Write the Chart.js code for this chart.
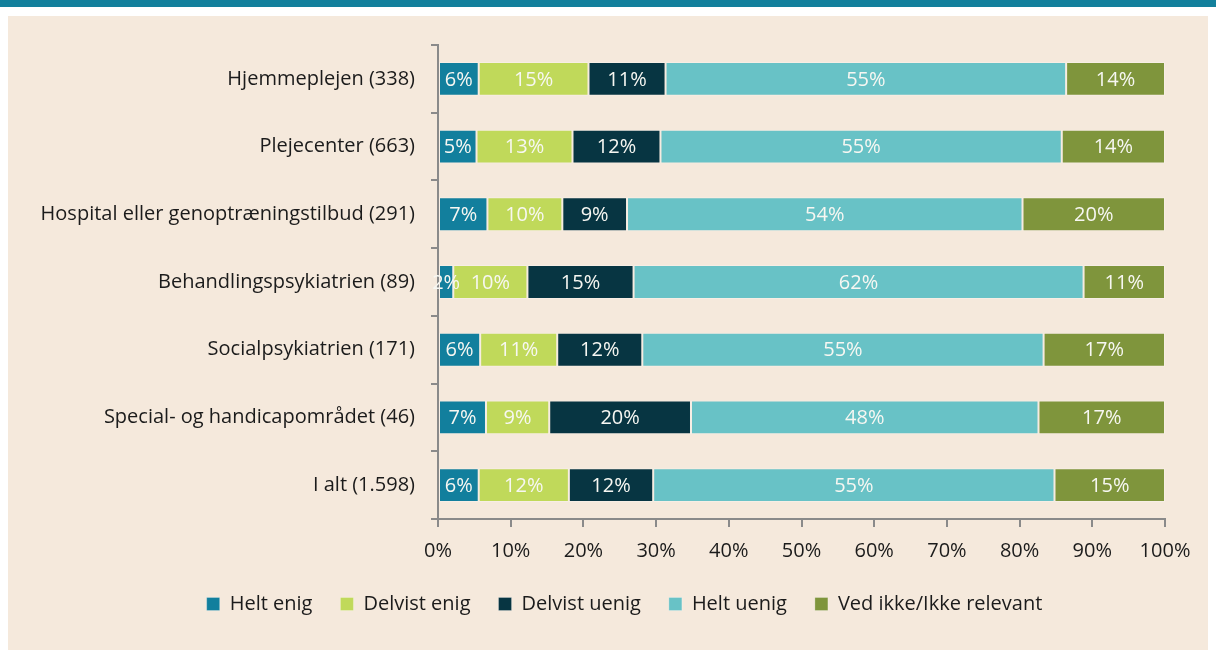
<!DOCTYPE html>
<html>
<head>
<meta charset="utf-8">
<script src="https://cdn.jsdelivr.net/npm/chart.js@4"></script>
<style>
  html, body { margin:0; padding:0; background:#fff; }
  body { width:1216px; height:650px; position:relative; overflow:hidden; }
  .topbar { position:absolute; left:0; top:0; width:1216px; height:7px; background:#13809c; }
  .panel { position:absolute; left:8px; top:16px; width:1200px; height:634px; background:#f5e9dc; }
  canvas { display:block; }
</style>
</head>
<body>
<div class="topbar"></div>
<div class="panel"><canvas id="chart" width="1200" height="634"></canvas></div>
<script>
(function(){
  const categories = [
    'Hjemmeplejen (338)',
    'Plejecenter (663)',
    'Hospital eller genoptræningstilbud (291)',
    'Behandlingspsykiatrien (89)',
    'Socialpsykiatrien (171)',
    'Special- og handicapområdet (46)',
    'I alt (1.598)'
  ];
  const seriesNames = ['Helt enig','Delvist enig','Delvist uenig','Helt uenig','Ved ikke/Ikke relevant'];
  const heltEnig     = [5.6, 5.3, 6.8, 2.1, 5.8, 6.6, 5.6];
  const delvistEnig  = [15.1, 13.2, 10.3, 10.2, 10.6, 8.7, 12.4];
  const delvistUenig = [10.6, 12.1, 8.9, 14.6, 11.7, 19.5, 11.6];
  const heltUenig    = [55.1, 55.2, 54.4, 61.9, 55.2, 47.8, 55.2];
  const vedIkke      = [13.6, 14.2, 19.6, 11.2, 16.7, 17.4, 15.2];
  const xTicks = [0,10,20,30,40,50,60,70,80,90,100];
  const colors = ['#127f9d','#c0d95a','#073542','#68c2c6','#7f953c'];

  const FONT = '"Open Sans", "Noto Sans", sans-serif';
  Chart.defaults.font.family = FONT;
  Chart.defaults.color = '#1b1b1b';

  // labels inside each segment
  const segLabels = {
    id: 'segLabels',
    afterDatasetsDraw(chart){
      const ctx = chart.ctx;
      ctx.save();
      ctx.font = '20px ' + FONT;
      ctx.fillStyle = '#f7f7f2';
      ctx.textAlign = 'center';
      ctx.textBaseline = 'middle';
      chart.data.datasets.forEach((ds, i)=>{
        const meta = chart.getDatasetMeta(i);
        meta.data.forEach((bar, j)=>{
          const v = ds.data[j];
          ctx.fillText(Math.round(v) + '%', (bar.x + bar.base)/2, bar.y + 1);
        });
      });
      ctx.restore();
    }
  };

  // nudge the legend so it sits a bit right of the canvas centre
  const legendShift = {
    id: 'legendShift',
    afterUpdate(chart){
      const lg = chart.legend;
      if(!lg) return;
      const dx = 38;
      lg.left += dx; lg.right += dx;
      (lg.legendHitBoxes || []).forEach(h=>{ h.left += dx; });
    }
  };

  const values = [heltEnig, delvistEnig, delvistUenig, heltUenig, vedIkke];
  const datasets = seriesNames.map((name, i)=>({
    label: name,
    data: values[i],
    backgroundColor: colors[i],
    borderColor: 'rgba(255,255,255,0.25)',
    borderWidth: 1,
    borderSkipped: false,
    barPercentage: 0.5,
    categoryPercentage: 1
  }));

  new Chart(document.getElementById('chart').getContext('2d'), {
    type: 'bar',
    data: { labels: categories, datasets },
    plugins: [segLabels, legendShift],
    options: {
      indexAxis: 'y',
      responsive: false,
      animation: false,
      layout: { padding: { top: 29, right: 43, bottom: 26, left: 0 } },
      plugins: {
        legend: {
          position: 'bottom',
          labels: { boxWidth: 13, boxHeight: 13, padding: 28, font: { size: 20 }, color: '#1b1b1b' }
        },
        tooltip: { enabled: false }
      },
      scales: {
        x: {
          stacked: true,
          min: 0, max: 100,
          afterBuildTicks: (s)=>{ s.ticks = xTicks.map(v=>({ value: v })); },
          afterFit: (s)=>{ s.height = 47; },
          ticks: { callback: (v)=> v + '%', font: { size: 20 }, padding: 12, color: '#1b1b1b', maxRotation: 0 },
          grid: { drawOnChartArea: false, drawTicks: true, tickLength: 8, color: '#8a8a8a', lineWidth: 2 },
          border: { color: '#8a8a8a', width: 2 }
        },
        y: {
          stacked: true,
          afterFit: (s)=>{ s.width = 430; },
          ticks: { font: { size: 20 }, padding: 16, color: '#1b1b1b' },
          grid: { drawOnChartArea: false, drawTicks: true, tickLength: 7, color: '#8a8a8a', lineWidth: 2, offset: true },
          border: { color: '#8a8a8a', width: 2 }
        }
      }
    }
  });
})();
</script>
</body>
</html>
